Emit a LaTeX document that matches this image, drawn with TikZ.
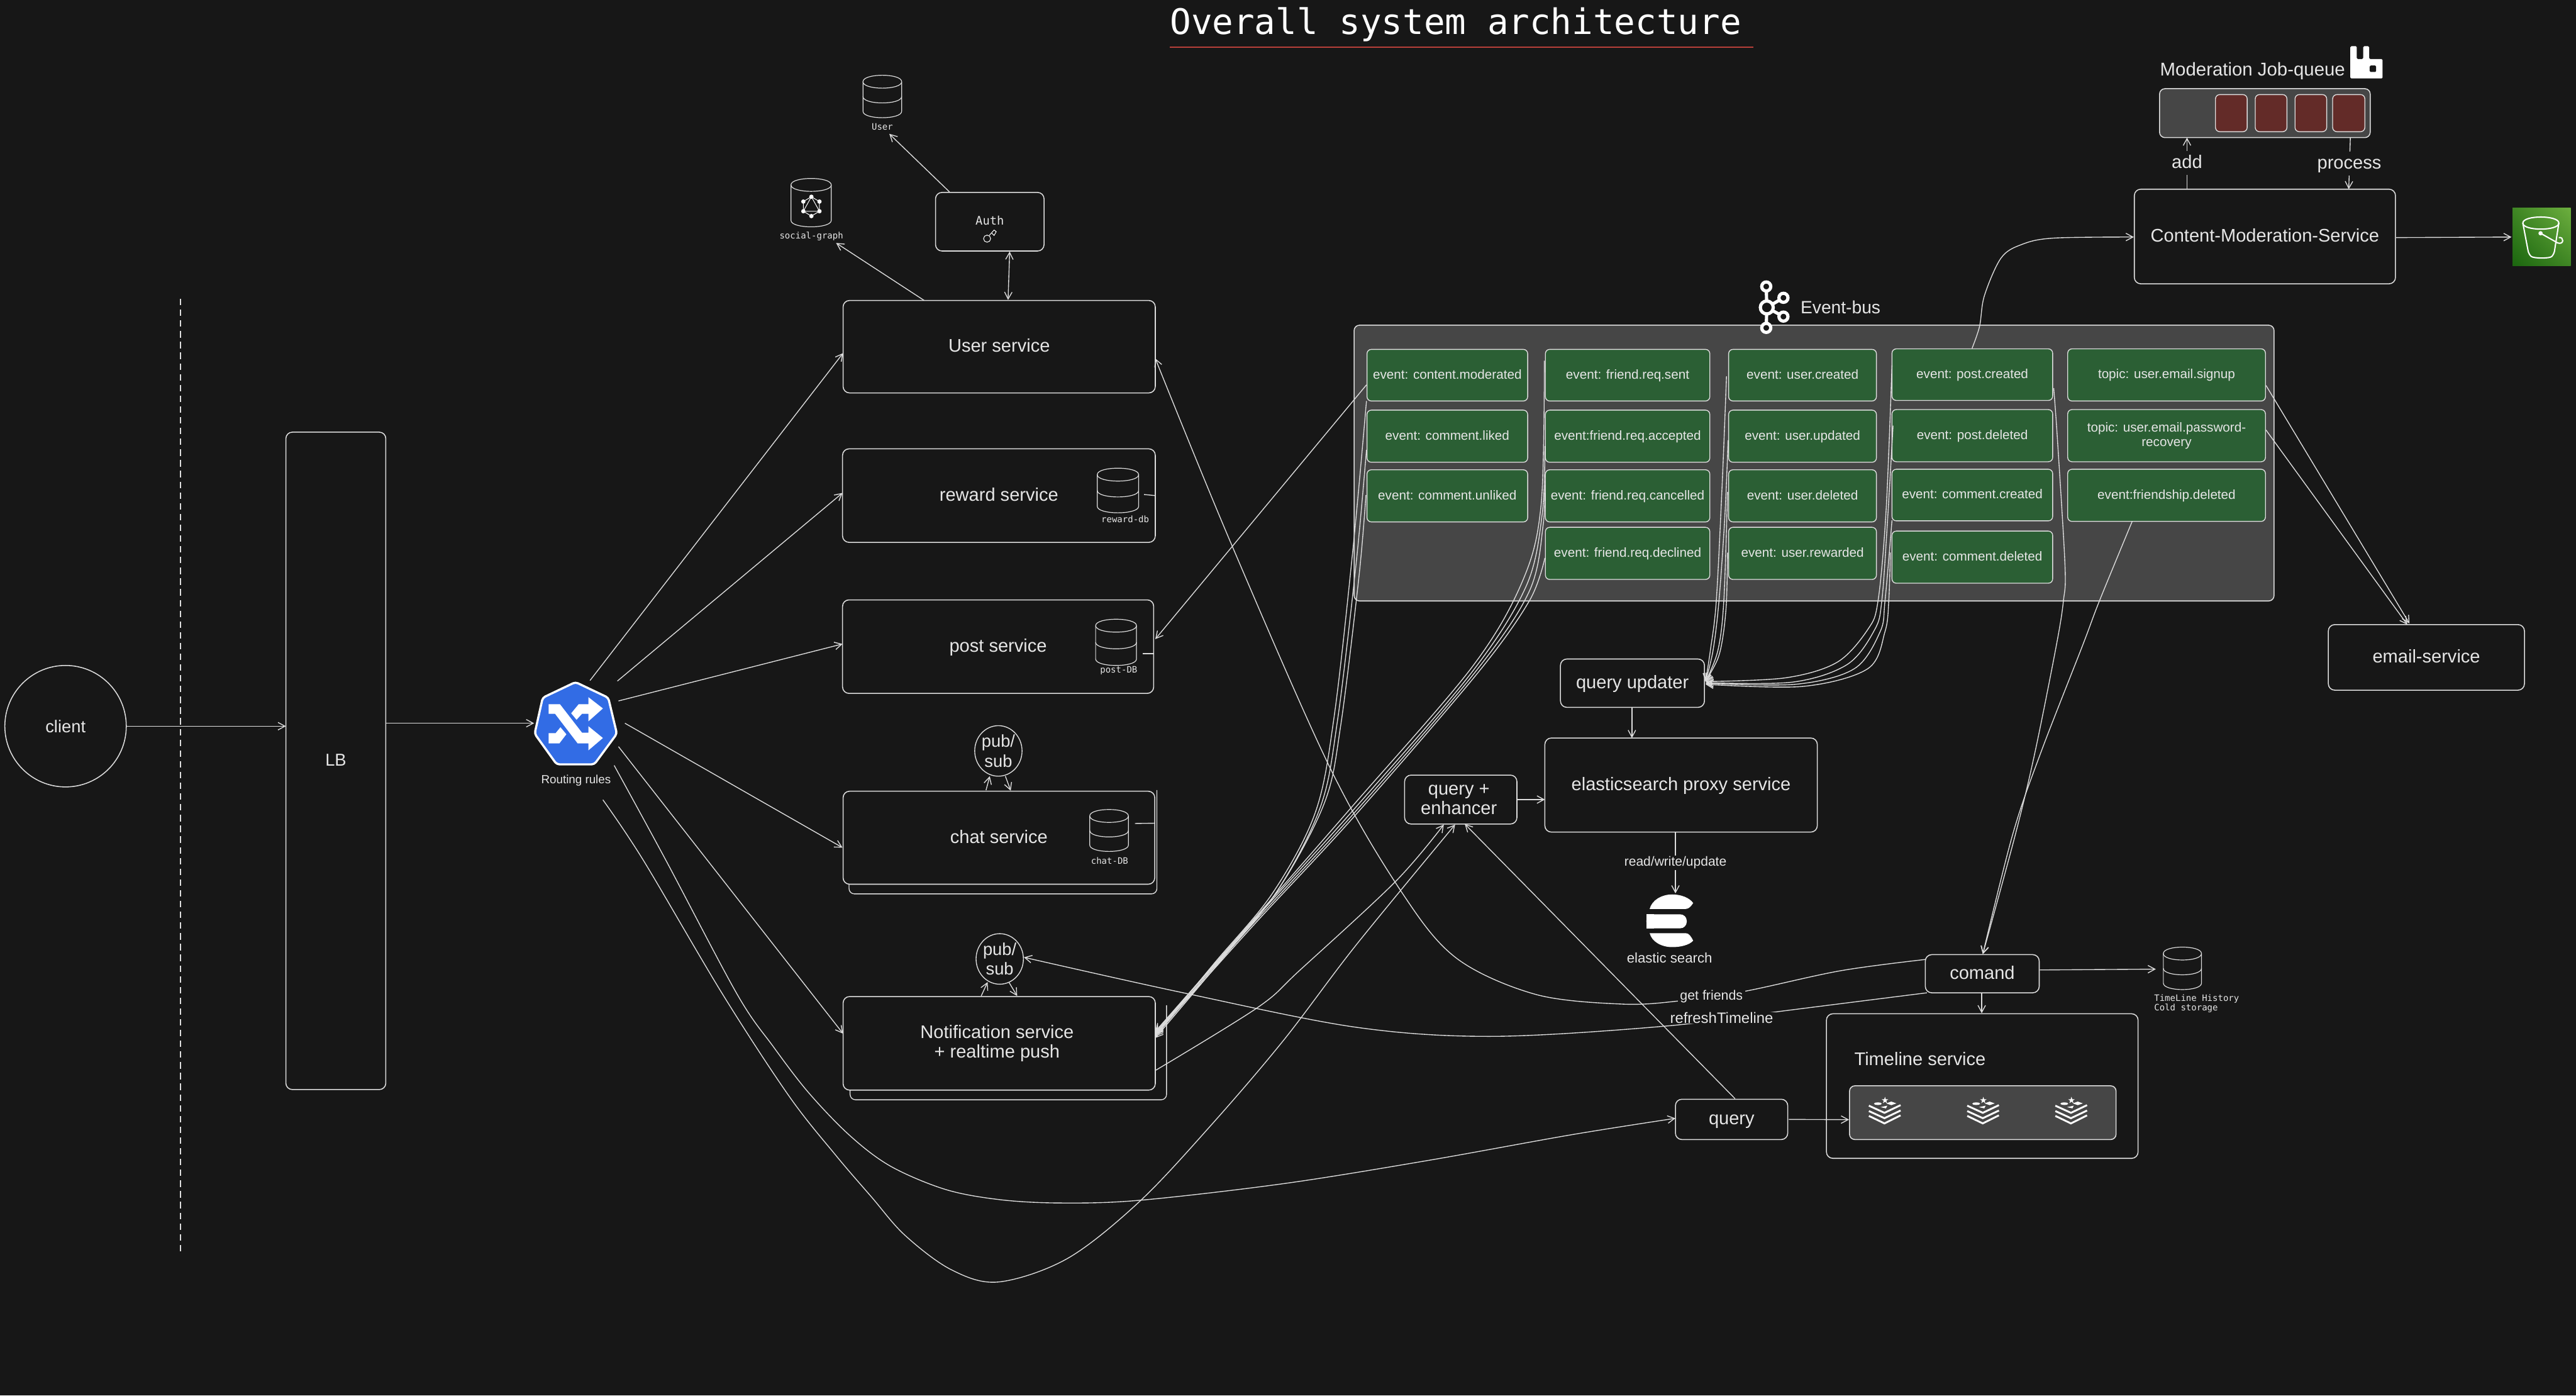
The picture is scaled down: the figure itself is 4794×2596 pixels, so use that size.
\documentclass[tikz,border=0pt]{standalone}
\usepackage{fontspec}
\setmainfont{Liberation Sans}
\newfontfamily\monofam{DejaVu Sans Mono}
\usetikzlibrary{arrows.meta,shapes.geometric,shadings}
\definecolor{bgc}{HTML}{171717}
\definecolor{linec}{HTML}{DDDDDD}
\definecolor{txtc}{HTML}{E6E6E6}
\definecolor{busc}{HTML}{464646}
\definecolor{greenc}{HTML}{2B5F34}
\definecolor{redc}{HTML}{632B28}
\definecolor{titler}{HTML}{B8403A}
\definecolor{routerc}{HTML}{326CE5}
\definecolor{sthreea}{HTML}{1B660F}
\definecolor{sthreeb}{HTML}{3F8624}
\definecolor{sthreec}{HTML}{6CAE3E}
\tikzset{
  base/.style={inner sep=0pt,outer sep=0pt,text=txtc,align=center},
  svcbox/.style={base,draw=linec,line width=.9pt,rounded corners=6pt,fill=bgc,font=\fontsize{17}{18.5}\selectfont,text height=13.5pt,text depth=3.5pt},
  evbox/.style={base,draw=linec,line width=.8pt,rounded corners=4pt,fill=greenc,font=\fontsize{12.1}{13.3}\selectfont,text height=9.5pt,text depth=2.5pt},
  multiline/.style={text height=,text depth=},
  greybox/.style={base,draw=linec,line width=.9pt,rounded corners=5pt,fill=busc},
  redbox/.style={base,draw=linec,line width=.8pt,rounded corners=4pt,fill=redc},
  ghost/.style={base},
  txt/.style={base,font=\fontsize{17}{18.5}\selectfont},
  linebox/.style={text height=13.5pt,text depth=3.5pt},
  pubsub/.style={ellipse,draw=linec,line width=.8pt,minimum width=44pt,minimum height=47pt,base,fill=bgc,font=\fontsize{16}{18.6}\selectfont},
  monosm/.style={base,font=\monofam\fontsize{8.2}{8.6}\selectfont},
  wire/.style={draw=linec,line width=.8pt},
  conn/.style={wire,-{Straight Barb[length=6.5pt,width=7pt]}},
  dconn/.style={wire,{Straight Barb[length=6.5pt,width=7pt]}-{Straight Barb[length=6.5pt,width=7pt]}},
  thin line/.style={draw=linec,line width=.7pt},
  back/.style={draw=linec,line width=.8pt,rounded corners=5pt},
  sm/.style={smooth,tension=.55}
}
\newcommand\bx[7]{%
  \pgfmathsetmacro\bxw{(#4-#2)*0.5}\pgfmathsetmacro\bxh{(#5-#3)*0.5}%
  \pgfmathsetmacro\bxx{(#2+#4)/2}\pgfmathsetmacro\bxy{(#3+#5)/2}%
  \node[#6,minimum width=\bxw pt,minimum height=\bxh pt] (#1) at (\bxx,\bxy) {#7};}
\newcommand\cyl[5]{%
  \pgfmathsetmacro\ca{#1}\pgfmathsetmacro\cb{#3}%
  \pgfmathsetmacro\ctt{#2+12}\pgfmathsetmacro\ctu{#2-4}\pgfmathsetmacro\ctd{#2+28}%
  \pgfmathsetmacro\cbt{#4-12}\pgfmathsetmacro\cbd{#4+4}%
  \pgfmathsetmacro\cm{(#2+#4)/2}\pgfmathsetmacro\cmd{(#2+#4)/2+16}%
  \draw[thin line] (\ca,\ctt) -- (\ca,\cbt) .. controls (\ca,\cbd) and (\cb,\cbd) .. (\cb,\cbt) -- (\cb,\ctt);
  \draw[thin line] (\ca,\ctt) .. controls (\ca,\ctu) and (\cb,\ctu) .. (\cb,\ctt) .. controls (\cb,\ctd) and (\ca,\ctd) .. (\ca,\ctt) -- cycle;
  \if#51\draw[thin line] (\ca,\cm) .. controls (\ca,\cmd) and (\cb,\cmd) .. (\cb,\cm);\fi}
\newcommand\redisicon[2]{%
  \begin{scope}[shift={(#1,#2)}]
    \draw[white,line width=1.7pt] (-29,-11) -- (0,2.3) -- (30,-12);
    \draw[white,line width=1.7pt] (-29,-1) -- (0,12.3) -- (30,-2);
    \draw[white,line width=1.7pt] (-29,8) -- (0,22) -- (30,7);
    \fill[white] (1,-27.5) -- (2.5,-23) -- (7.2,-23) -- (3.4,-20.2) -- (4.8,-15.7) -- (1,-18.4) -- (-2.8,-15.7) -- (-1.4,-20.2) -- (-5.2,-23) -- (-.5,-23) -- cycle;
    \fill[white] (-19.6,-14.7) .. controls (-19.6,-18) and (-5,-18) .. (-5,-14.7) .. controls (-5,-11.4) and (-19.6,-11.4) .. (-19.6,-14.7) -- cycle;
    \fill[white] (3.2,-15.3) -- (12.7,-18.6) -- (22.2,-15.3) -- (12.7,-12) -- cycle;
    \fill[white] (-7.3,-8.3) -- (5.3,-11) -- (2.7,-6) -- cycle;
  \end{scope}}
\begin{document}
\begin{tikzpicture}[x=0.5pt,y=-0.5pt]
\useasboundingbox (0,0) rectangle (4794,2596);
\fill[bgc] (0,0) rectangle (4794,2596);

% title
\node[base,anchor=base,text=white,font=\monofam\fontsize{32.7}{34}\selectfont] (title) at (2709,64) {Overall system architecture};
\coordinate (tl) at (2177,88); \coordinate (tr) at (3263,88);
\draw[titler,line width=1.3pt] (tl) -- (tr);

% left side
\coordinate (dasha) at (336,556); \coordinate (dashb) at (336,2330);
\draw[draw=linec,line width=.7pt,dash pattern=on 6pt off 4pt] (dasha) -- (dashb);
\node[circle,draw=linec,line width=.9pt,minimum size=113pt,base,font=\fontsize{16}{18}\selectfont] (client) at (122,1351) {client};
\bx{lb}{532}{804}{718}{2027}{svcbox,font=\fontsize{16}{18}\selectfont}{LB}

% router
\bx{router}{995}{1269}{1148}{1422}{ghost}{}
\draw[white,line width=2pt,fill=routerc,rounded corners=2.5pt,line join=round] (1071,1269) -- (1132,1298) -- (1148,1365) -- (1106,1422) -- (1036,1422) -- (995,1365) -- (1010,1298) -- cycle;
\fill[white] (1021,1310) -- (1042,1310) -- (1083,1363) -- (1095,1363) -- (1095,1351) -- (1122,1373) -- (1095,1396) -- (1095,1383) -- (1075,1383) -- (1033,1328) -- (1021,1328) -- cycle;
\fill[white] (1063,1327) -- (1077,1310) -- (1095,1310) -- (1095,1297) -- (1122,1318) -- (1095,1342) -- (1095,1328) -- (1083,1328) -- (1073,1339) -- cycle;
\fill[white] (1021,1364) -- (1034,1364) -- (1043,1353) -- (1054,1366) -- (1041,1383) -- (1021,1383) -- cycle;
\node[txt,font=\fontsize{11}{12}\selectfont] (routerlbl) at (1072,1452) {Routing rules};

% data stores above user service
\bx{userdb}{1606}{140}{1678}{249}{ghost}{}
\cyl{1606}{140}{1678}{219}{1}
\node[monosm] (userlbl) at (1642,236) {User};
\bx{socialdb}{1472}{332}{1547}{452}{ghost}{}
\cyl{1472}{332}{1547}{422}{0}
\node[monosm] (sociallbl) at (1510,440) {social-graph};
\begin{scope}[shift={(1510,384)}]
  \draw[white,line width=.6pt] (0,-18) -- (15,-9) -- (15,9) -- (0,18) -- (-15,9) -- (-15,-9) -- cycle;
  \draw[white,line width=.6pt] (0,-18) -- (15,9) -- (-15,9) -- cycle;
  \fill[white] (0,-18) circle[radius=2pt] (15,-9) circle[radius=2pt] (15,9) circle[radius=2pt] (0,18) circle[radius=2pt] (-15,9) circle[radius=2pt] (-15,-9) circle[radius=2pt];
\end{scope}
\bx{auth}{1741}{358}{1943}{467}{svcbox,font=\monofam\fontsize{11}{12}\selectfont,text height=8.5pt,text depth=2.5pt}{Auth}
\draw[white,line width=.6pt] (1837,444) circle[radius=3.3pt];
\draw[white,line width=.6pt] (1841,438) -- (1850,428) -- (1854,431) -- (1850,438) -- (1846,434);

% services
\bx{us}{1569}{559}{2150}{731}{svcbox}{User service}
\bx{reward}{1568}{835}{2150}{1009}{svcbox}{reward service}
\cyl{2042}{871}{2119}{954}{1}
\node[monosm] (rewardlbl) at (2094,966) {reward-db};
\draw[wire] (2129,920) -- (reward.east);
\bx{post}{1568}{1116}{2147}{1290}{svcbox}{post service}
\cyl{2039}{1152}{2115}{1238}{1}
\node[monosm] (postlbl) at (2082,1248) {post-DB};
\draw[wire] (2127,1216) -- ([shift={(0,13)}]post.east);

\draw[back] (2153,1470) -- (2153,1663) -- (1580,1663) -- (1580,1640);
\bx{chat}{1569}{1472}{2149}{1645}{svcbox}{chat service}
\cyl{2028}{1506}{2100}{1584}{1}
\node[monosm] (chatlbl) at (2065,1601) {chat-DB};
\draw[wire] (2112,1532) -- ([shift={(0,-27)}]chat.east);
\node[pubsub] (ps1) at (1858,1397) {pub/\\sub};

\draw[back] (2171,1870) -- (2171,2046) -- (1582,2046) -- (1582,2020);
\bx{notif}{1569}{1854}{2150}{2028}{svcbox,multiline}{Notification service\hspace*{4pt}\\+ realtime push\hspace*{4pt}}
\node[pubsub] (ps2) at (1860.5,1784) {pub/\\sub};

% event bus
\bx{bus}{2520}{605}{4232}{1118}{greybox}{}
\draw[white,line width=3pt] (3288,572) -- (3287,533) (3288,572) -- (3287,610) (3288,572) -- (3319,554) (3288,572) -- (3319,589);
\draw[white,line width=3pt,fill=bgc] (3287,533) circle[radius=4.2pt];
\draw[white,line width=3pt,fill=bgc] (3287,610) circle[radius=4.2pt];
\draw[white,line width=3pt,fill=bgc] (3319,554) circle[radius=4.2pt];
\draw[white,line width=3pt,fill=bgc] (3319,589) circle[radius=4.2pt];
\draw[white,line width=3pt,fill=bgc] (3288,572) circle[radius=6pt];
\node[txt,anchor=west,font=\fontsize{16.5}{18}\selectfont] (buslbl) at (3351,572) {Event-bus};

\bx{ea}{2544}{650}{2843}{746}{evbox}{event: content.moderated}
\bx{eb}{2544}{763}{2843}{860}{evbox}{event: comment.liked}
\bx{ec}{2544}{874}{2843}{971}{evbox}{event: comment.unliked}
\bx{fa}{2876}{650}{3182}{746}{evbox}{event: friend.req.sent}
\bx{fb}{2876}{763}{3182}{860}{evbox}{event:friend.req.accepted}
\bx{fc}{2876}{874}{3182}{971}{evbox}{event: friend.req.cancelled}
\bx{fd}{2876}{981}{3182}{1078}{evbox}{event: friend.req.declined}
\bx{ua}{3217}{650}{3492}{746}{evbox}{event: user.created}
\bx{ub}{3217}{763}{3492}{860}{evbox}{event: user.updated}
\bx{uc}{3217}{874}{3492}{971}{evbox}{event: user.deleted}
\bx{ud}{3217}{981}{3492}{1078}{evbox}{event: user.rewarded}
\bx{pa}{3521}{649}{3820}{745}{evbox}{event: post.created}
\bx{pb}{3521}{762}{3820}{859}{evbox}{event: post.deleted}
\bx{pc}{3521}{873}{3820}{969}{evbox}{event: comment.created}
\bx{pd}{3521}{988}{3820}{1085}{evbox}{event: comment.deleted}
\bx{ta}{3848}{649}{4216}{746}{evbox}{topic: user.email.signup}
\bx{tb}{3848}{762}{4216}{859}{evbox,multiline}{topic: user.email.password-\\recovery}
\bx{tc}{3848}{873}{4216}{970}{evbox}{event:friendship.deleted}

% moderation
\node[txt,linebox,anchor=west,font=\fontsize{17.2}{19}\selectfont] (modlbl) at (4020,131) {Moderation Job-queue};
\fill[white,rounded corners=1pt] (4374,146) -- (4374,86) -- (4386,86) -- (4386,110) -- (4398,110) -- (4398,86) -- (4409,86) -- (4409,110) -- (4434,110) -- (4434,146) -- cycle;
\fill[bgc,rounded corners=1pt] (4410,122) rectangle (4422,134);
\bx{queue}{4019}{165}{4411}{256}{greybox}{}
\bx{qa}{4123}{176}{4182}{245}{redbox}{}
\bx{qb}{4197}{176}{4256}{245}{redbox}{}
\bx{qc}{4271}{176}{4330}{245}{redbox}{}
\bx{qd}{4341}{176}{4401}{245}{redbox}{}
\bx{content}{3972}{352}{4458}{528}{svcbox}{Content-Moderation-Service}
\bx{s3}{4676}{387}{4784}{495}{ghost,shade,lower left=sthreea,upper left=sthreeb,lower right=sthreeb,upper right=sthreec}{}
\draw[white,line width=1.2pt] (4695,415) .. controls (4695,400) and (4762,400) .. (4762,415) .. controls (4762,430) and (4695,430) .. (4695,415) -- cycle;
\draw[white,line width=1.2pt,rounded corners=3pt] (4695,415) -- (4706,473) .. controls (4715,481) and (4745,481) .. (4753,473) -- (4762,415);
\draw[white,line width=1.2pt] (4728,434) -- (4760,452) .. controls (4772,456) and (4772,440) .. (4762,442);
\fill[white] (4728,434) circle[radius=2pt];
\draw[conn] ([shift={(1,2)}]content.east) -- ([shift={(-2,0)}]s3.west);
\draw[conn] ([shift={(-145,0)}]content.north) -- ([shift={(-145,0)}]queue.south);
\draw[conn] ([shift={(159,0)}]queue.south) -- ([shift={(156,0)}]content.north);
\node[txt,linebox,fill=bgc,minimum height=22pt] (addlbl) at (4070,303) {add};
\node[txt,linebox,fill=bgc,minimum height=22pt] (proclbl) at (4372,304) {process};

% email
\bx{email}{4333}{1162}{4698}{1284}{svcbox}{email-service}

% search
\bx{quup}{2904}{1226}{3172}{1316}{svcbox}{query updater}
\bx{es}{2875}{1373}{3382}{1548}{svcbox}{elasticsearch proxy service}
\bx{qe}{2614}{1442}{2823}{1533}{svcbox,multiline}{query +\hspace*{3.5pt}\\enhancer\hspace*{3.5pt}}
\bx{elastic}{3064}{1664}{3151}{1762}{ghost}{}
\fill[white] (3070,1691) .. controls (3074,1675) and (3092,1664) .. (3112,1664) .. controls (3128,1664) and (3144,1670) .. (3151,1680) .. controls (3147,1686) and (3143,1691) .. (3137,1691) -- cycle;
\fill[white,rounded corners=6pt] (3064,1701) -- (3139,1701) -- (3139,1727) -- (3064,1727) -- cycle;
\fill[white] (3064,1701) rectangle (3078,1727);
\fill[white] (3070,1736) -- (3137,1736) .. controls (3143,1736) and (3147,1742) .. (3151,1750) .. controls (3144,1758) and (3128,1762) .. (3112,1762) .. controls (3092,1762) and (3074,1752) .. (3070,1736) -- cycle;
\node[txt,font=\fontsize{13}{14}\selectfont] (elasticlbl) at (3107,1782) {elastic search};

% timeline
\bx{timeline}{3399}{1886}{3979}{2155}{svcbox}{}
\node[txt,anchor=west] (tllbl) at (3451,1970) {Timeline service};
\bx{cache}{3442}{2020}{3938}{2120}{greybox}{}
\redisicon{3507}{2068}
\redisicon{3690}{2068}
\redisicon{3854}{2068}
\bx{comand}{3583}{1776}{3795}{1847}{svcbox}{comand}
\bx{query}{3118}{2045}{3327}{2120}{svcbox}{query}
\bx{tlh}{4012}{1762}{4105}{1884}{ghost}{}
\cyl{4026}{1762}{4097}{1841}{1}
\node[monosm,anchor=north west,align=left] (tlhlbl) at (4009,1850) {TimeLine History\\Cold storage};

% simple connectors
\draw[conn] (client) -- ([shift={(0,-64.5)}]lb.west);
\draw[conn] ([shift={(0,-70)}]lb.east) -- ([shift={(-1,0)}]router.west);
\draw[conn] ([shift={(26.5,-79.5)}]router.center) -- ([shift={(0,12)}]us.west);
\draw[conn] ([shift={(77.5,-78.5)}]router.center) -- ([shift={(0,-5)}]reward.west);
\draw[conn] ([shift={(79.5,-41.5)}]router.center) -- ([shift={(0,-5)}]post.west);
\draw[conn] ([shift={(91.5,0)}]router.center) -- ([shift={(-1,18.5)}]chat.west);
\draw[conn] ([shift={(79.5,43.5)}]router.center) -- ([shift={(0,-18)}]notif.west);
\draw[conn] ([shift={(-75,-1)}]auth.north) -- ([shift={(13,0)}]userdb.south);
\draw[conn] ([shift={(-139.5,0)}]us.north) -- ([shift={(46.5,0)}]socialdb.south);
\draw[dconn] ([shift={(16.5,-1)}]us.north) -- ([shift={(37,1)}]auth.south);
\draw[conn] ([shift={(-24,-2)}]chat.north) -- ([shift={(-16,0)}]ps1.south);
\draw[conn] ([shift={(13,0)}]ps1.south) -- ([shift={(22,-1)}]chat.north);
\draw[conn] ([shift={(-33.5,-1)}]notif.north) -- ([shift={(-22.5,-4)}]ps2.south);
\draw[conn] ([shift={(17.5,-3)}]ps2.south) -- ([shift={(33.5,-1)}]notif.north);
\draw[conn] ([shift={(-1,18)}]ea.west) -- ([shift={(3,-14)}]post.east);
\draw[conn] ([shift={(1,19.5)}]ta.east) -- ([shift={(-31.5,-2)}]email.north);
\draw[conn] ([shift={(1,-10.5)}]tb.east) -- ([shift={(-35.5,0)}]email.north);
\draw[conn] ([shift={(-1,1)}]quup.south) -- ([shift={(-91.5,0)}]es.north);
\draw[conn] (qe.east) -- ([shift={(0,27)}]es.west);
\draw[conn] ([shift={(-10.5,0)}]es.south) -- ([shift={(10.5,-2)}]elastic.north);
\draw[conn] ([shift={(1,-7)}]comand.east) -- ([shift={(0,-20)}]tlh.west);
\draw[conn] ([shift={(-1,1)}]comand.south) -- ([shift={(-1,-1)}]timeline.north);
\draw[conn] ([shift={(2,0)}]query.east) -- ([shift={(-1,13)}]cache.west);
\draw[conn] ([shift={(6.5,-1)}]query.north) -- ([shift={(7.5,0)}]qe.south);

% curved connectors
\draw[conn] plot[sm] coordinates {([shift={(-1,48)}]ea.west) (2518,1020) (2483,1332) (2448,1511) (2368,1662) (2259,1793) ([shift={(0,-16)}]notif.east)};
\draw[conn] plot[sm] coordinates {([shift={(-1,25.5)}]eb.west) (2524,1046) (2489,1341) (2457,1502) (2374,1662) (2262,1795) ([shift={(0,-13)}]notif.east)};
\draw[conn] plot[sm] coordinates {([shift={(-2,-1.5)}]ec.west) (2529,1073) (2495,1350) (2465,1493) (2380,1653) (2265,1795) ([shift={(0,-10)}]notif.east)};
\draw[conn] plot[sm] coordinates {([shift={(-2,-27)}]fa.west) (2868,939) (2833,1082) (2738,1243) (2515,1502) (2330,1714) ([shift={(0,-22)}]notif.east)};
\draw[conn] plot[sm] coordinates {([shift={(-1,18.5)}]fb.west) (2870,957) (2840,1091) (2738,1252) (2515,1511) (2330,1716) ([shift={(0,-20)}]notif.east)};
\draw[conn] plot[sm] coordinates {([shift={(-2,-27.5)}]fc.west) (2872,975) (2846,1100) (2744,1252) (2518,1515) (2332,1718) ([shift={(0,-18)}]notif.east)};
\draw[conn] plot[sm] coordinates {([shift={(-1,8.5)}]fd.west) (2846,1118) (2750,1252) (2521,1518) (2334,1720) ([shift={(0,-16)}]notif.east)};

\draw[conn] plot[sm] coordinates {([shift={(-4,2)}]ua.west) (3205,900) (3194,1118) (3183,1210) ([shift={(2,-3)}]quup.east)};
\draw[conn] plot[sm] coordinates {([shift={(-1,7.5)}]ub.west) (3210,960) (3199,1118) (3188,1210) ([shift={(2,-3)}]quup.east)};
\draw[conn] plot[sm] coordinates {([shift={(-2,-7.5)}]uc.west) (3208,1118) (3197,1210) ([shift={(2,-3)}]quup.east)};
\draw[conn] plot[sm] coordinates {([shift={(-2,-1.5)}]ud.west) (3213,1118) (3207,1180) (3197,1225) ([shift={(2,-3)}]quup.east)};

\draw[conn] plot[sm] coordinates {([shift={(0,-17)}]pa.west) (3510,950) (3495,1118) (3476,1171) (3419,1232) (3323,1261) ([shift={(2,-3)}]quup.east)};
\draw[conn] plot[sm] coordinates {([shift={(2,-18.5)}]pb.west) (3512,980) (3502,1118) (3489,1171) (3438,1236) (3336,1269) ([shift={(2,-1)}]quup.east)};
\draw[conn] plot[sm] coordinates {([shift={(0,47)}]pc.west) (3508,1118) (3499,1175) (3451,1244) (3342,1273) ([shift={(2,0)}]quup.east)};
\draw[conn] plot[sm] coordinates {([shift={(-3,-8.5)}]pd.west) (3515,1118) (3508,1175) (3476,1244) (3355,1277) ([shift={(2,2)}]quup.east)};

\draw[conn] plot[sm] coordinates {([shift={(2,25)}]pa.east) (3829,819) (3843,1053) (3840,1118) (3827,1200) (3787,1400) (3751,1551) ([shift={(1,-1)}]comand.north)};
\draw[conn] plot[sm] coordinates {([shift={(-64,0)}]tc.south) (3907,1118) (3876,1200) (3798,1400) (3746,1551) ([shift={(1,-1)}]comand.north)};
\draw[conn] plot[sm] coordinates {([shift={(-0.5,-1)}]pa.north) (3684,607) (3693,550) (3724,480) (3762,455) (3821,443) ([shift={(-1,1)}]content.west)};

\draw[conn] plot[sm] coordinates {([shift={(50.5,142.5)}]router.center) (1197,1600) (1345,1850) (1469,2040) (1556,2150) (1622,2227) (1684,2298) (1770,2362) (1858,2385) (1987,2341) (2121,2235) (2255,2092) (2389,1935) (2523,1759) ([shift={(-10.5,1)}]qe.south)};
\draw[conn] plot[sm] coordinates {([shift={(71.5,78.5)}]router.center) (1239,1600) (1372,1850) (1439,1947) (1505,2033) (1582,2113) (1658,2170) (1760,2213) (1862,2232) (1974,2238) (2121,2233) (2389,2202) (2657,2159) (2925,2111) ([shift={(0,-2)}]query.west)};
\draw[conn] plot[sm] coordinates {([shift={(1,50)}]notif.east) (2341,1874) (2419,1805) (2597,1640) ([shift={(-31.5,1)}]qe.south)};
\draw[conn] plot[sm] coordinates {([shift={(-103,0)}]comand.south) (3309,1882) (3099,1909) (2778,1928) (2523,1911) (2202,1847) ([shift={(1,-3)}]ps2.east)};
\draw[conn] plot[sm] coordinates {([shift={(0,-26.5)}]comand.west) (3425,1806) (3248,1844) (3126,1862) (3019,1868) (2858,1850) (2711,1783) (2610,1662) (2476,1430) (2291,1011) ([shift={(0,22)}]us.east)};

% labels over connectors
\node[txt,fill=bgc,font=\fontsize{12.3}{13}\selectfont,minimum height=13.5pt] (rwlbl) at (3118,1605) {read/write/update};
\node[txt,fill=bgc,font=\fontsize{12.5}{13}\selectfont,inner xsep=2pt] (gflbl) at (3185,1854) {get friends};
\node[txt,fill=bgc,font=\fontsize{14}{15}\selectfont,inner xsep=2pt] (rtlbl) at (3204,1894) {refreshTimeline};
\end{tikzpicture}
\end{document}
